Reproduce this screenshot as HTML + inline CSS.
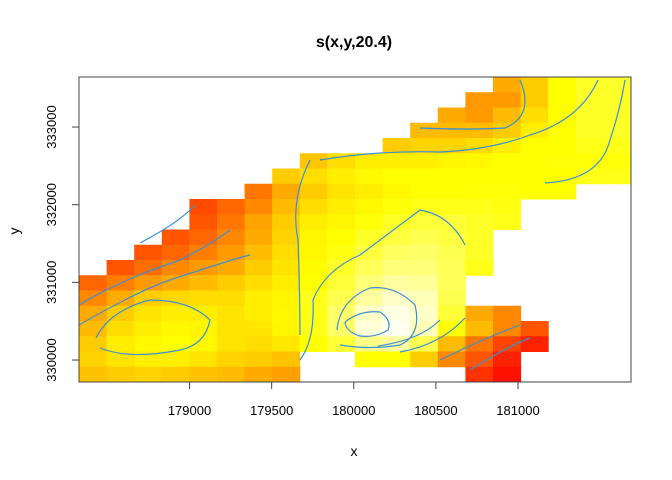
<!DOCTYPE html>
<html><head><meta charset="utf-8"><style>
html,body{margin:0;padding:0;background:#fff;}
svg{display:block;font-family:"Liberation Sans",Arial,sans-serif;}
</style></head><body>
<svg id="chart" width="672" height="480" viewBox="0 0 672 480">
<text x="354" y="47" text-anchor="middle" font-size="16" font-weight="bold" fill="#000">s(x,y,20.4)</text>
<g id="cells"></g>
<g id="contours" fill="none" stroke="#3a8fd6" stroke-width="1.2"></g>
<rect x="79" y="77" width="552" height="305" fill="none" stroke="#444" stroke-width="1"/>
<g id="xaxis"></g>
<g id="yaxis"></g>
<text x="354" y="456" text-anchor="middle" font-size="14">x</text>
<text x="0" y="0" transform="translate(19,231) rotate(-90)" text-anchor="middle" font-size="14">y</text>
</svg>
<script>
// grid: 20 columns x 20 rows; each row: [startColumn, values...]
const gridRows = [
 [15,-2,-1,0.5,1,1],
 [14,-2.5,-2.5,-1,0.5,1,1],
 [13,-2,-2.5,-1.5,-0.5,0.5,1,1],
 [12,-1.5,-1.5,-1.5,-1,0,0.5,1,1],
 [11,-1,-0.8,-0.8,-0.5,0,0.5,0.5,0.8,0.8],
 [8,-1.2,-0.5,0,0,0,0.2,0.3,0.5,0.5,0.6,0.6,0.6],
 [7,-1,-0.5,0,0.3,0.5,0.5,0.5,0.5,0.5,0.5,0.5,0.8,0.8],
 [6,-3.5,-2,-1,-0.3,0,0.3,0.5,0.5,0.6,0.6,0.5,0.5],
 [4,-4.8,-4,-3,-1.5,-0.5,0,0.3,0.6,0.8,0.8,0.8,0.7],
 [4,-4.5,-3.5,-2.2,-1,0,0.2,0.6,1,1.2,1.2,1,0.8],
 [3,-4.5,-4,-3,-2,-0.8,0.2,0.5,1,1.3,1.5,1.3,1],
 [2,-4.5,-4,-3.3,-2.5,-1.5,-0.5,0.3,0.7,1.3,1.7,1.8,1.5,1],
 [1,-4.5,-3.8,-3,-2.5,-2,-1,-0.3,0.4,1,1.6,2,2,1.6,0.8],
 [0,-4,-3.3,-2.5,-2,-1.5,-1,-0.5,0,0.5,1.2,2,2.5,2.4,1.6],
 [0,-3,-2,-1,-0.7,-0.5,-0.5,0,0.2,0.8,1.5,2.5,3,2.8,1.5],
 [0,-2,-1,-0.3,0,0,-0.3,0,0.3,0.8,1.8,3,3.4,3,1.2,-2,-3],
 [0,-1.5,-0.5,0,0.3,0.2,-0.3,-0.2,0.2,0.8,1.8,3.2,3.5,2.8,0.5,-1.5,-3,-4.5],
 [0,-1,0,0.3,0.5,0.3,-0.3,-0.5,-0.2,0.5,1.2,2.2,2.5,1.5,-1.5,-3.5,-5,-6],
 [0,-0.8,-0.3,0,0,-0.3,-0.8,-1,-1.3,null,null,0.5,0.5,-1,-3,-4.5,-6],
 [0,-1.3,-1,-0.8,-1,-1.3,-1.5,-2,-2.3,null,null,null,null,null,null,-5.5,-6.5]
];
const xTicks = [179000,179500,180000,180500,181000];
const yTicks = [330000,331000,332000,333000];
const xDomain = [178327,181688];
const yDomain = [329717,333644];
const PL=79,PR=631,PT=77,PB=382;
const NS='http://www.w3.org/2000/svg';
const sx=v=>PL+(v-xDomain[0])/(xDomain[1]-xDomain[0])*(PR-PL);
const sy=v=>PB-(v-yDomain[0])/(yDomain[1]-yDomain[0])*(PB-PT);
function color(v){
  const g=Math.round(255*Math.min(1,Math.max(0,(v+7)/7.5)));
  const b=v>0.5?Math.round(255*Math.min(1,(v-0.5)/3.2)):0;
  return `rgb(255,${g},${b})`;
}
const cw=(PR-PL)/20,ch=(PB-PT)/20;
const cells=document.getElementById('cells');
gridRows.forEach((row,r)=>{
  const start=row[0];
  row.slice(1).forEach((v,i)=>{
    if(v===null)return;
    const c=start+i;
    const rc=document.createElementNS(NS,'rect');
    rc.setAttribute('x',(PL+c*cw).toFixed(2));
    rc.setAttribute('y',(PT+r*ch).toFixed(2));
    rc.setAttribute('width',(cw+0.5).toFixed(2));
    rc.setAttribute('height',(ch+0.5).toFixed(2));
    rc.setAttribute('fill',color(v));
    
    
    cells.appendChild(rc);
  });
});
// approximate contour traces
const contourPaths=[
 "M345,322 Q360,310 380,312 Q392,320 388,330 Q375,338 360,336 Q346,332 345,322",
 "M337,330 Q340,300 370,288 Q395,285 415,305 Q422,335 400,345 Q370,350 340,345",
 "M300,360 Q315,340 313,300 Q325,270 360,255 Q380,240 420,210 Q450,215 465,245",
 "M96,338 Q110,310 150,300 Q190,300 210,320 Q205,345 180,350 Q130,360 100,348",
 "M79,325 Q140,290 170,280 Q230,260 250,255",
 "M79,305 Q120,280 180,260 Q210,245 230,230",
 "M140,243 Q180,222 195,205",
 "M310,160 Q290,200 298,240 Q300,300 300,335",
 "M320,160 Q380,150 440,152 Q490,150 530,135 Q580,120 598,80",
 "M420,128 Q470,130 505,128 Q535,115 520,80",
 "M545,183 Q600,180 610,140 Q620,110 625,80",
 "M378,346 Q420,340 440,320",
 "M400,352 Q440,345 465,318",
 "M440,360 Q480,340 520,325",
 "M470,370 Q510,345 530,338"
];
const cg=document.getElementById('contours');
contourPaths.forEach(d=>{
  const p=document.createElementNS(NS,'path');
  p.setAttribute('d',d);
  
  
  cg.appendChild(p);
});
const xa=document.getElementById('xaxis');
xTicks.forEach(t=>{
  const x=sx(t);
  const l=document.createElementNS(NS,'line');
  l.setAttribute('x1',x);l.setAttribute('x2',x);l.setAttribute('y1',PB);l.setAttribute('y2',PB+7);
  l.setAttribute('stroke','#444');
  
  
  xa.appendChild(l);
  const tx=document.createElementNS(NS,'text');
  tx.setAttribute('x',x);tx.setAttribute('y',PB+33);tx.setAttribute('text-anchor','middle');tx.setAttribute('font-size','13');
  tx.textContent=t;
  
  
  xa.appendChild(tx);
});
const ya=document.getElementById('yaxis');
yTicks.forEach(t=>{
  const y=sy(t);
  const l=document.createElementNS(NS,'line');
  l.setAttribute('x1',PL-7);l.setAttribute('x2',PL);l.setAttribute('y1',y);l.setAttribute('y2',y);
  l.setAttribute('stroke','#444');
  
  
  ya.appendChild(l);
  const tx=document.createElementNS(NS,'text');
  tx.setAttribute('transform',`translate(56,${y}) rotate(-90)`);
  tx.setAttribute('text-anchor','middle');tx.setAttribute('font-size','13');
  tx.textContent=t;
  
  
  ya.appendChild(tx);
});
</script>
</body></html>
